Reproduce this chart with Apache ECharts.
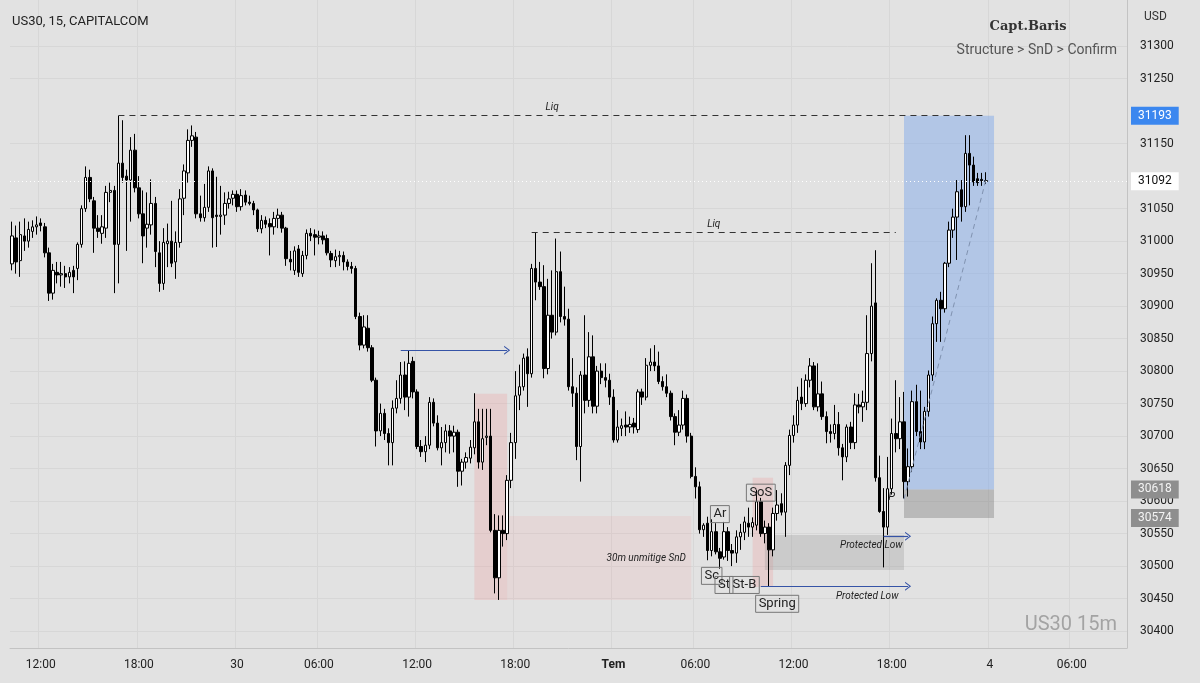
<!DOCTYPE html>
<html>
<head>
<meta charset="utf-8">
<title>US30 15m</title>
<script src="https://cdn.jsdelivr.net/npm/echarts@6.0.0/dist/echarts.min.js"></script>
<style>
  html, body { margin: 0; padding: 0; background: #e2e2e2; }
  #chart { width: 1200px; height: 683px; }
</style>
</head>
<body>
<div id="chart"></div>
<script>
// 15m bars, each [open, high, low, close]
const jun29 = [
  [30965,31030,30955,31008],[31005,31024,30950,30968],[30970,31030,30945,31010],[31008,31035,30985,31000],
  [31000,31030,30990,31018],[31015,31032,31005,31022],[31022,31038,31010,31025],[31028,31035,31015,31024],
  [31022,31028,30975,30982],[30982,30990,30908,30920],[30920,30965,30910,30955],[30952,30968,30935,30948],
  [30948,30968,30930,30950],[30950,30962,30928,30945],[30945,30960,30935,30952],[30955,30962,30920,30945],
  [30958,30998,30940,30995],[30995,31055,30990,31050],[31050,31115,31045,31098],[31098,31110,31060,31065],
  [31062,31068,30982,31020],[31020,31040,31005,31015],[31012,31040,30996,31022],[31020,31085,31005,31075],
  [31075,31090,31060,31078],[31078,31085,30920,30995],[30995,31193,30935,31120],[31120,31186,31090,31098],
  [31100,31110,30985,31094],[31094,31160,31030,31140],[31140,31165,31075,31082],[31082,31100,31035,31042],
  [31042,31078,30966,31008],[31020,31075,30990,31026],[31025,31095,31010,31058],[31058,31068,30960,30984],
  [30982,31000,30922,30935],[30935,31020,30925,30998],[30996,31027,30960,31000],[31000,31062,30960,30966],
  [30968,31015,30942,30998],[30998,31080,30990,31065],[31066,31118,31040,31108],[31105,31172,31090,31155],
  [31155,31178,31145,31162],[31160,31168,31035,31042],[31042,31070,31030,31036],[31036,31088,31030,31052],
  [31052,31115,31045,31108],[31108,31112,30990,31036],[31040,31099,30991,31038],[31038,31085,31010,31040],
  [31040,31075,31025,31058],[31058,31076,31050,31065],[31066,31078,31055,31072]
];
const jun30 = [
  [31072,31078,31045,31053],[31053,31080,31047,31070],[31071,31078,31055,31060],[31060,31070,31055,31058],
  [31058,31062,31040,31048],[31048,31050,31014,31019],[31019,31040,31012,31032],[31032,31038,31020,31026],
  [31027,31035,30978,31022],[31022,31045,31010,31035],[31035,31050,31020,31040],[31040,31045,31013,31020],
  [31020,31022,30962,30973],[30972,30985,30955,30968],[30955,30992,30948,30985],[30988,30994,30945,30952],
  [30950,30985,30945,30978],[30978,31018,30972,31012],[31012,31020,31000,31008],[31010,31018,30978,31006],
  [31006,31016,30995,31008],[31008,31015,30995,31002],[31004,31010,30978,30982],[30981,30985,30960,30971],
  [30970,30987,30960,30976],[30976,30985,30962,30978],[30978,30984,30955,30968],[30968,30972,30955,30961],
  [30961,30968,30950,30958],[30958,30962,30880,30884],[30884,30890,30832,30840],[30840,30886,30835,30868],
  [30866,30886,30830,30836],[30836,30840,30783,30786],[30786,30790,30684,30708],[30708,30750,30700,30735],
  [30735,30742,30694,30704],[30704,30712,30655,30690],[30690,30755,30655,30743],[30743,30786,30735,30758],
  [30758,30814,30750,30794],[30794,30815,30740,30760],[30760,30832,30730,30812],[30815,30822,30758,30768],
  [30768,30772,30680,30684],[30684,30694,30668,30676],[30676,30700,30660,30686],[30686,30760,30680,30752],
  [30752,30758,30715,30720],[30720,30732,30678,30682],[30682,30714,30655,30690],[30690,30718,30675,30708],
  [30708,30717,30673,30700],[30700,30716,30675,30706],[30706,30710,30622,30646],[30646,30665,30624,30660],
  [30660,30675,30650,30667],[30666,30694,30658,30683],[30682,30766,30672,30722],[30722,30742,30650,30660],
  [30660,30742,30648,30696],[30698,30742,30686,30700],[30700,30742,30552,30555],[30555,30580,30458,30482],
  [30482,30578,30448,30555],[30555,30578,30530,30550],[30550,30640,30540,30632],[30632,30705,30620,30690],
  [30690,30800,30665,30762],[30763,30810,30740,30776],[30776,30827,30770,30820],[30822,30835,30745,30796],
  [30796,30965,30790,30958],[30958,31014,30909,30937],[30937,30968,30925,30930],[30930,30963,30789,30804],
  [30804,30942,30795,30886],[30886,30955,30850,30860],[30860,31004,30855,30953],[30953,30984,30875,30884],
  [30884,30930,30870,30880],[30880,30896,30770,30776],[30776,30820,30745,30766],[30766,30775,30663,30684],
  [30684,30800,30630,30794],[30794,30886,30735,30755],[30755,30860,30745,30822],[30822,30855,30735,30746],
  [30746,30808,30735,30800],[30800,30812,30780,30790],[30790,30812,30775,30786],[30786,30796,30748,30760]
];
const jul01 = [
  [30760,30772,30690,30694],[30694,30740,30690,30714],[30712,30727,30700,30716],[30717,30738,30700,30714],
  [30714,30730,30705,30718],[30720,30728,30704,30714],[30710,30772,30705,30768],[30768,30773,30748,30760],
  [30760,30820,30755,30809],[30809,30835,30800,30814],[30814,30840,30800,30808],[30808,30830,30780,30784],
  [30784,30792,30770,30776],[30776,30795,30760,30766],[30766,30770,30724,30730],[30730,30735,30686,30706],
  [30706,30740,30700,30717],[30717,30770,30710,30758],[30758,30764,30690,30700],[30700,30705,30635,30638],
  [30638,30652,30604,30622],[30622,30630,30550,30556],[30556,30566,30545,30563],[30566,30576,30509,30524],
  [30524,30572,30515,30553],[30553,30566,30518,30522],[30522,30528,30496,30512],[30514,30568,30510,30553],
  [30553,30560,30508,30524],[30524,30534,30500,30520],[30520,30555,30505,30545],[30545,30565,30525,30552],
  [30552,30576,30540,30568],[30566,30590,30545,30560],[30560,30575,30545,30567],[30563,30617,30555,30599],
  [30599,30605,30545,30550],[30550,30570,30535,30560],[30560,30566,30468,30525],[30525,30590,30515,30581],
  [30581,30617,30570,30594],[30596,30612,30578,30583],[30583,30660,30545,30655],[30655,30710,30640,30701],
  [30701,30732,30690,30717],[30717,30776,30705,30755],[30760,30789,30740,30750],[30750,30795,30745,30786],
  [30786,30820,30775,30808],[30808,30814,30740,30745],[30745,30812,30738,30765],[30765,30784,30725,30730],
  [30730,30738,30689,30707],[30707,30718,30690,30704],[30704,30748,30695,30718],[30718,30737,30670,30682],
  [30682,30688,30632,30668],[30668,30718,30660,30714],[30714,30722,30680,30690],[30690,30766,30680,30748],
  [30748,30765,30735,30745],[30745,30770,30722,30752],[30752,30886,30740,30827],[30827,30966,30815,30900],
  [30905,30986,30630,30636],[30636,30670,30582,30584],[30584,30620,30498,30560],[30560,30668,30548,30619],
  [30619,30727,30610,30704],[30704,30786,30675,30696],[30696,30760,30680,30722],[30722,30768,30604,30630],
  [30630,30681,30607,30653],[30653,30770,30645,30753],[30753,30779,30700,30707],[30707,30770,30680,30691],
  [30691,30745,30680,30738],[30738,30801,30730,30794],[30794,30884,30785,30873],[30873,30912,30845,30909],
  [30909,30922,30845,30896],[30896,30968,30890,30966],[30966,31030,30960,31017],[31017,31050,31005,31037],
  [31037,31094,30971,31076],[31079,31094,31030,31053],[31053,31163,31045,31135],[31135,31163,31055,31117],
  [31117,31130,31085,31091],[31096,31105,31085,31090],[31095,31105,31085,31093],[31093,31106,31088,31092]
];

// trading sessions (daily break 00:00-01:00), plus empty slots of 4 Jul
const sessions = [
  { date: '2022-06-29', first: '10:15', count: jun29.length },
  { date: '2022-06-30', first: '01:00', count: jun30.length },
  { date: '2022-07-01', first: '01:00', count: jul01.length },
  { date: '2022-07-04', first: '01:00', count: 34 }
];
const dayNames = { '2022-06-30': '30', '2022-07-01': 'Tem', '2022-07-04': '4' };
const timeMarks = ['06:00', '12:00', '18:00'];
const priceTicks = [30400, 30450, 30500, 30550, 30600, 30650, 30700, 30750, 30800, 30850,
                    30900, 30950, 31000, 31050, 31150, 31250, 31300];

const lastPrice = 31092;
const liqHigh = 31193;
const liqLow = 31014;
const targetPrice = 31193, entryPrice = 30618, stopPrice = 30574;

function sessionTimes(s) {
  let [h, m] = s.first.split(':').map(Number);
  const out = [];
  for (let k = 0; k < s.count; k++) {
    out.push(s.date + ' ' + String(h).padStart(2, '0') + ':' + String(m).padStart(2, '0'));
    m += 15;
    if (m === 60) { m = 0; h += 1; }
  }
  return out;
}
const categories = [].concat(...sessions.map(sessionTimes));
const bars = jun29.concat(jun30, jul01);
const candleData = bars.map(b => [b[0], b[3], b[2], b[1]]);

function tickText(v) {
  const date = v.slice(0, 10), time = v.slice(11);
  if (time === '01:00' && dayNames[date]) return dayNames[date];
  if (timeMarks.indexOf(time) >= 0) return time;
  return '';
}
const showTick = (i, v) => tickText(v) !== '';

const FONT = 'Roboto, "Liberation Sans", sans-serif';
const arrowHead = 'path://M0,10 L5,0 L10,10 L8.6,10 L5,2.8 L1.4,10 Z';
const blue = '#3553a6';

function tag(value, bg, fg) {
  return {
    yAxis: value,
    lineStyle: { color: 'rgba(0,0,0,0)', width: 0 },
    label: { show: true, position: 'end', formatter: String(value), backgroundColor: bg, color: fg,
             padding: [3, 7], fontSize: 12, distance: 4, fontFamily: FONT }
  };
}
function arrow(i0, i1, price) {
  return [{ coord: [i0, price], symbol: 'none' },
          { coord: [i1, price], symbol: arrowHead, symbolSize: [9, 6],
            lineStyle: { type: 'solid', color: blue, width: 1.2 } }];
}

const chart = echarts.init(document.getElementById('chart'));
chart.setOption({
  animation: false,
  backgroundColor: '#e2e2e2',
  textStyle: { fontFamily: FONT },
  grid: { left: 10, right: 73, top: 0, bottom: 35 },
  xAxis: {
    type: 'category', data: categories, boundaryGap: true,
    axisLine: { show: true, lineStyle: { color: '#c3c3c3' } },
    axisTick: { show: false },
    axisLabel: {
      interval: showTick, color: '#222', fontSize: 12, margin: 11,
      formatter: v => { const t = tickText(v); return t === 'Tem' ? '{b|Tem}' : t; },
      rich: { b: { fontWeight: 'bold', fontSize: 12, color: '#222' } }
    },
    splitLine: { show: true, interval: showTick, lineStyle: { color: '#d7d7d7' } }
  },
  yAxis: {
    type: 'value', position: 'right', min: 30374, max: 31371,
    axisLine: { show: true, lineStyle: { color: '#c3c3c3' } },
    axisTick: { show: false, customValues: priceTicks },
    axisLabel: { customValues: priceTicks, color: '#222', fontSize: 12, margin: 13, formatter: v => String(v) },
    splitLine: { show: true, lineStyle: { color: '#d7d7d7' } }
  },
  series: [
    {
      type: 'line', data: [], z: 1, silent: true,
      markArea: {
        silent: true,
        data: [
          [{ coord: [113, 30765], itemStyle: { color: 'rgba(240,150,150,0.26)' } }, { coord: [121, 30448] }],
          [{ coord: [121, 30577], itemStyle: { color: 'rgba(240,160,160,0.17)' } }, { coord: [166, 30448] }],
          [{ coord: [181, 30636], itemStyle: { color: 'rgba(240,150,150,0.26)' } }, { coord: [186, 30468] }],
          [{ coord: [184, 30548], itemStyle: { color: 'rgba(150,150,150,0.3)' } }, { coord: [218, 30494] }],
          [{ coord: [218, targetPrice], itemStyle: { color: 'rgba(120,165,235,0.45)' } }, { coord: [240, entryPrice] }],
          [{ coord: [218, entryPrice], itemStyle: { color: 'rgba(110,110,110,0.35)' } }, { coord: [240, stopPrice] }]
        ]
      },
      markLine: {
        silent: true, symbol: 'none',
        lineStyle: { type: 'solid', color: blue, width: 1 },
        label: { show: false },
        data: [
          [{ coord: [26, liqHigh] }, { coord: [238, liqHigh],
            lineStyle: { type: [6, 5], color: '#333', width: 1 },
            label: { show: true, position: 'insideMiddleTop', formatter: 'Liq', fontStyle: 'italic', fontSize: 10, color: '#222', distance: 3 } }],
          [{ coord: [127, liqLow] }, { coord: [216, liqLow],
            lineStyle: { type: [6, 5], color: '#333', width: 1 },
            label: { show: true, position: 'insideMiddleTop', formatter: 'Liq', fontStyle: 'italic', fontSize: 10, color: '#222', distance: 3 } }],
          [{ coord: [218, 30603] }, { coord: [238, 31094], lineStyle: { type: [5, 4], color: '#8092b0', width: 1 } }],
          arrow(95, 121, 30832),
          arrow(183, 219, 30469),
          arrow(213, 219, 30546),
          { yAxis: lastPrice, lineStyle: { type: [1, 3], color: '#ffffff', width: 1 },
            label: { show: true, position: 'end', formatter: String(lastPrice), backgroundColor: '#ffffff', color: '#111',
                     padding: [3, 7], fontSize: 12, distance: 4 } },
          tag(liqHigh, '#3b87ef', '#ffffff'),
          tag(entryPrice, '#8e8e8e', '#f4f4f4'),
          tag(stopPrice, '#8e8e8e', '#f4f4f4')
        ]
      }
    },
    {
      type: 'candlestick', data: candleData, z: 3, barWidth: '72%',
      itemStyle: { color: '#ffffff', color0: '#000000', borderColor: '#000000', borderColor0: '#000000', borderWidth: 1 }
    }
  ]
});

// annotation texts anchored to bar index / price
function at(i, p) { return chart.convertToPixel({ xAxisIndex: 0, yAxisIndex: 0 }, [i, p]); }
function boxLabel(text, i, p) {
  const [x, y] = at(i, p);
  return { type: 'text', z: 20, style: { text, x, y, align: 'center', verticalAlign: 'middle',
    font: '13px ' + FONT, fill: '#222', borderColor: '#777', borderWidth: 1, padding: [2, 3] } };
}
function italic(text, i, p, size, align) {
  const [x, y] = at(i, p);
  return { type: 'text', z: 20, style: { text, x, y, align: align || 'center', verticalAlign: 'middle',
    font: 'italic ' + size + 'px ' + FONT, fill: '#222' } };
}

chart.setOption({
  graphic: [
    { type: 'text', style: { text: 'US30, 15, CAPITALCOM', x: 12, y: 22, verticalAlign: 'middle', font: '13px ' + FONT, fill: '#222' } },
    { type: 'text', style: { text: 'USD', x: 1144, y: 17, verticalAlign: 'middle', font: '12px ' + FONT, fill: '#333' } },
    { type: 'text', style: { text: 'Capt.Baris', x: 1028, y: 27, align: 'center', verticalAlign: 'middle', font: 'bold 13px "DejaVu Serif", serif', fill: '#333' } },
    { type: 'text', style: { text: 'Structure > SnD > Confirm', x: 1117, y: 50, align: 'right', verticalAlign: 'middle', font: '14px ' + FONT, fill: '#555' } },
    { type: 'text', style: { text: 'US30 15m', x: 1117, y: 625, align: 'right', verticalAlign: 'middle', font: '20px ' + FONT, fill: '#a3a3a3' } },
    italic('30m unmitige SnD', 155, 30512, 10),
    italic('Protected Low', 209, 30454, 10),
    italic('Protected Low', 210, 30532, 10),
    italic('P', 215.4, 30606, 11),
    boxLabel('Sc', 171.4, 30485),
    boxLabel('St', 173.6, 30471),
    boxLabel('St-B', 178.6, 30471),
    boxLabel('Ar', 173, 30580),
    boxLabel('SoS', 183, 30613),
    boxLabel('Spring', 187.2, 30442)
  ]
});
</script>
</body>
</html>
